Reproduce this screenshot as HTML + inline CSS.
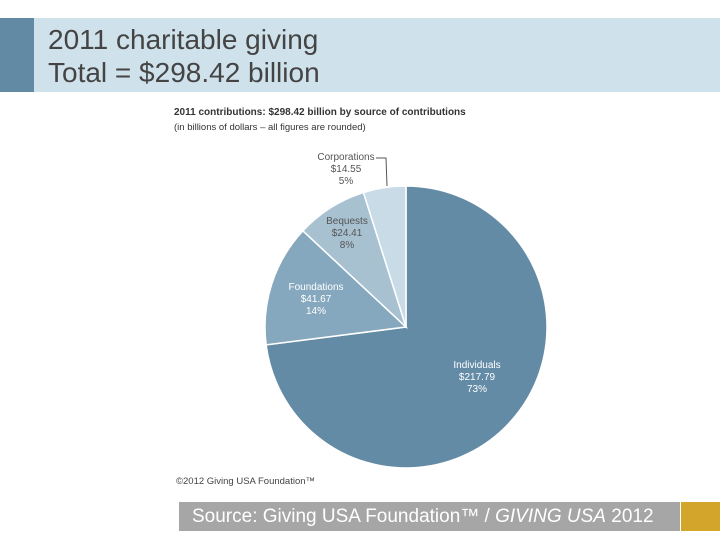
<!DOCTYPE html>
<html><head><meta charset="utf-8"><style>
body{margin:0;width:720px;height:540px;background:#fff;position:relative;overflow:hidden;font-family:"Liberation Sans",sans-serif}
.abs{position:absolute}
</style></head><body>
<div class="abs" style="left:0;top:18px;width:720px;height:74px;background:#cfe1eb"></div>
<div class="abs" style="left:0;top:18px;width:34px;height:74px;background:#628aa5"></div>
<div class="abs" style="left:48px;top:23px;font-size:28px;line-height:33px;color:#444">2011 charitable giving<br>Total = $298.42 billion</div>
<svg class="abs" style="left:0;top:0" width="720" height="540">
<text x="174" y="115" font-size="10" font-weight="bold" fill="#333">2011 contributions: $298.42 billion by source of contributions</text>
<text x="174" y="130" font-size="9.5" fill="#333">(in billions of dollars – all figures are rounded)</text>
<g id="slices"></g>
<g id="labels" font-size="10" text-anchor="middle"></g>
<polyline points="376,158 386,158 387,186" fill="none" stroke="#555" stroke-width="1"/>
<text x="176" y="484" font-size="9.5" fill="#444">©2012 Giving USA Foundation™</text>
</svg>
<div class="abs" style="left:179px;top:502px;width:501px;height:29px;background:#a6a6a6;color:#fff;font-size:19px;line-height:29px;padding-left:13px;box-sizing:border-box">Source: Giving USA Foundation™ / <i>GIVING USA</i> 2012</div>
<div class="abs" style="left:681px;top:502px;width:39px;height:29px;background:#d4a52b"></div>
<script>
const categories=["Individuals","Foundations","Bequests","Corporations"];
const values=[217.79,41.67,24.41,14.55];
const percents=["73%","14%","8%","5%"];
const colors=["#648ba6","#86a8be","#a7c1d1","#c8dbe7"];
const cx=406,cy=327,r=141;
const total=values.reduce((a,b)=>a+b,0);
const g=document.getElementById('slices'),lg=document.getElementById('labels');
const ns="http://www.w3.org/2000/svg";
function pt(a,rr){return [cx+rr*Math.sin(a),cy-rr*Math.cos(a)];}
let a0=0;
const labelPos=[[477,368],[316,290],[347,224],[346,160]];
const labelCol=["#fff","#fff","#555","#555"];
values.forEach((v,i)=>{
 const a1=a0+v/total*2*Math.PI;
 const p0=pt(a0,r),p1=pt(a1,r);
 const p=document.createElementNS(ns,'path');
 p.setAttribute('d',`M${cx},${cy}L${p0[0]},${p0[1]}A${r},${r} 0 ${a1-a0>Math.PI?1:0} 1 ${p1[0]},${p1[1]}Z`);
 p.setAttribute('fill',colors[i]);p.setAttribute('stroke','#fff');p.setAttribute('stroke-width','1.5');
 
 
 g.appendChild(p);
 const [lx,ly]=labelPos[i];
 [categories[i],'$'+v.toFixed(2),percents[i]].forEach((s,j)=>{
  const t=document.createElementNS(ns,'text');
  t.setAttribute('x',lx);t.setAttribute('y',ly+j*12);t.setAttribute('fill',labelCol[i]);
  t.textContent=s;
  
  
  lg.appendChild(t);
 });
 a0=a1;
});
</script>
</body></html>
